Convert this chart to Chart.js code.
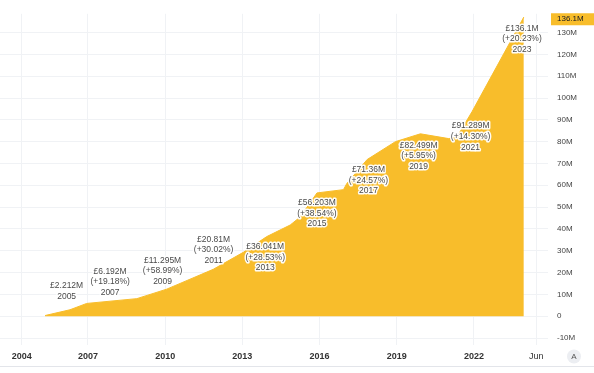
<!DOCTYPE html>
<html>
<head>
<meta charset="utf-8">
<script src="https://cdn.jsdelivr.net/npm/chart.js@4.4.1/dist/chart.umd.min.js"></script>
<style>
  html, body { margin: 0; padding: 0; background: #fff; }
  #wrap { position: relative; width: 594px; height: 373px; }
</style>
</head>
<body>
<div id="wrap"><canvas id="chart"></canvas></div>
<script>
// area series (date as decimal year, value in £M)
const seriesDates = [2005.33, 2006.30, 2006.95, 2008.90, 2010.06, 2011.87, 2013.04, 2013.95, 2014.86, 2015.25, 2015.90, 2016.93, 2017.06, 2017.85, 2018.95, 2019.92, 2021.02, 2021.34, 2021.93, 2023.94];
const seriesValues = [0.3, 2.95, 5.85, 8.05, 12.4, 21.5, 29.3, 36.5, 41.8, 45.5, 56.5, 58.0, 60.8, 71.8, 80.0, 83.6, 81.4, 82.1, 93.8, 137.1];

// yearly callouts
const labelYears = ['2005', '2007', '2009', '2011', '2013', '2015', '2017', '2019', '2021', '2023'];
const labelDates = [2006.17, 2007.86, 2009.90, 2011.88, 2013.89, 2015.90, 2017.90, 2019.85, 2021.87, 2023.87];
const labelValues = [2.212, 6.192, 11.295, 20.81, 36.041, 56.203, 71.36, 82.499, 91.289, 136.1];
const labelChanges = [null, '+19.18%', '+58.99%', '+30.02%', '+28.53%', '+38.54%', '+24.57%', '+5.95%', '+14.30%', '+20.23%'];

// axes
const xTickValues = [2004.43, 2007, 2010, 2013, 2016, 2019, 2022, 2024.42];
const xTickLabels = ['2004', '2007', '2010', '2013', '2016', '2019', '2022', 'Jun'];
const yTickValues = [-10, 0, 10, 20, 30, 40, 50, 60, 70, 80, 90, 100, 110, 120, 130];
const lastPrice = 136.1;

const areaColor = '#f8bd2b';
const FONT = '"Liberation Sans", Arial, sans-serif';

const points = seriesDates.map((d, i) => ({ x: d, y: seriesValues[i] }));

const fmtM = v => (v === 0 ? '0' : v + 'M');

// callouts, price tag, bottom strip
const overlay = {
  id: 'overlay',
  afterDatasetsDraw(chart) {
    const { ctx, scales: { x, y } } = chart;
    ctx.save();
    ctx.font = '8.5px ' + FONT;
    ctx.textAlign = 'center';
    ctx.textBaseline = 'middle';
    ctx.lineJoin = 'round';
    const lh = 10.7;
    labelYears.forEach((yr, i) => {
      const lines = ['£' + labelValues[i] + 'M'];
      if (labelChanges[i]) lines.push('(' + labelChanges[i] + ')');
      lines.push(yr);
      const px = x.getPixelForValue(labelDates[i]);
      const py = y.getPixelForValue(labelValues[i]);
      let top;
      if (i < 4) top = py - 10 - lh * (lines.length - 1) - (i === 0 ? 5 : 0);
      else top = py + 9;
      lines.forEach((t, k) => {
        const ty = top + k * lh;
        ctx.strokeStyle = 'rgba(255,255,255,0.95)';
        ctx.lineWidth = 3;
        ctx.strokeText(t, px, ty);
        ctx.fillStyle = '#4a4a4a';
        ctx.fillText(t, px, ty);
      });
    });

    // last value tag on the price scale
    const ly = y.getPixelForValue(lastPrice);
    const left = chart.chartArea.right + 3;
    ctx.fillStyle = areaColor;
    ctx.fillRect(left, ly - 6, chart.width - left, 12);
    ctx.fillStyle = '#131722';
    ctx.textAlign = 'left';
    ctx.font = '8px ' + FONT;
    ctx.fillText(lastPrice + 'M', chart.chartArea.right + 9, ly);

    // bottom separator and scale button
    ctx.strokeStyle = '#e3e5ea';
    ctx.lineWidth = 1;
    ctx.beginPath();
    ctx.moveTo(0, 366.5);
    ctx.lineTo(chart.width, 366.5);
    ctx.stroke();
    ctx.fillStyle = '#eceef2';
    ctx.beginPath();
    ctx.arc(574, 356.5, 7, 0, Math.PI * 2);
    ctx.fill();
    ctx.fillStyle = '#555';
    ctx.textAlign = 'center';
    ctx.fillText('A', 574, 357);
    ctx.restore();
  }
};

new Chart(document.getElementById('chart'), {
  type: 'line',
  data: {
    datasets: [{
      data: points,
      borderColor: areaColor,
      backgroundColor: areaColor,
      borderWidth: 1,
      fill: 'origin',
      pointRadius: 0,
      tension: 0
    }]
  },
  options: {
    responsive: true,
    maintainAspectRatio: false,
    animation: false,
    layout: { padding: 0 },
    plugins: { legend: { display: false }, tooltip: { enabled: false } },
    scales: {
      x: {
        type: 'linear',
        min: 2003.58,
        max: 2024.88,
        border: { display: false },
        grid: { color: '#f0f2f5', drawTicks: false },
        afterBuildTicks: s => { s.ticks = xTickValues.map(v => ({ value: v })); },
        afterFit: s => { s.height = 28; },
        ticks: {
          padding: 6,
          maxRotation: 0,
          autoSkip: false,
          color: '#333',
          font: c => ({ family: FONT, size: 9, weight: c.tick && c.tick.value === 2024.42 ? 'normal' : 'bold' }),
          callback: v => xTickLabels[xTickValues.indexOf(v)]
        }
      },
      y: {
        position: 'right',
        min: -13.2,
        max: 138.6,
        border: { display: false },
        grid: { color: '#f0f2f5', drawTicks: false },
        afterBuildTicks: s => { s.ticks = yTickValues.map(v => ({ value: v })); },
        afterFit: s => { s.width = 46; },
        ticks: {
          padding: 9,
          color: '#444',
          font: { family: FONT, size: 8 },
          callback: v => fmtM(v)
        }
      }
    }
  },
  plugins: [overlay]
});
</script>
</body>
</html>
